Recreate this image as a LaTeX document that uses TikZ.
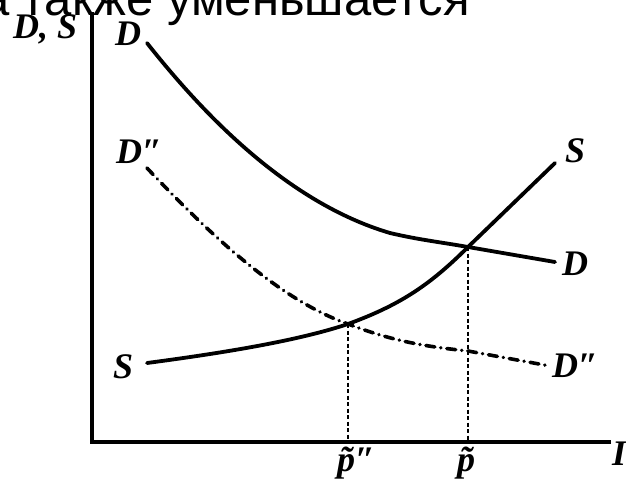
\documentclass[tikz,border=0pt]{standalone}
\usepackage{fontspec}
\setmainfont{Liberation Serif}
\newfontfamily\topfont{Liberation Sans}
\begin{document}
\begin{tikzpicture}[x=1pt,y=-1pt,
  curve/.style={line width=3.8pt,line join=round,line cap=round},
  dashdot/.style={line width=3.6pt,line cap=round,dash pattern=on 9pt off 6pt on 0.1pt off 6pt},
  guide/.style={line width=2pt,dash pattern=on 4pt off 2.5pt},
  axis/.style={line width=4pt},
  lab/.style={font=\fontsize{36}{36}\selectfont\bfseries\itshape,inner sep=0pt,anchor=base west}]
\useasboundingbox (0,0) rectangle (626,480);
\clip (0,0) rectangle (626,480);
% cut-off caption line at the top
\node[font=\topfont\fontsize{49}{49}\selectfont,inner sep=0pt,anchor=base east] (cap) at (470,15) {а также уменьшается};
% axes
\coordinate (O) at (92,442);
\coordinate (ytop) at (92,12);
\coordinate (xend) at (611,442);
\draw[axis] (ytop) -- (O) -- (xend);
% intersections
\coordinate (E) at (468,247);
\coordinate (Ep) at (348,324);
\coordinate (E0) at (468,442);
\coordinate (Ep0) at (348,442);
% curves
\draw[curve] (147,43) .. controls (200,110) and (285,202) .. (390,233) .. controls (420,240) and (440,242) .. (E) -- (555,262);
\draw[curve] (147,363) .. controls (230,352) and (300,340) .. (Ep) .. controls (400,305) and (430,285) .. (E) -- (555,163);
\draw[dashdot] (147,168) .. controls (210,235) and (280,300) .. (Ep) .. controls (390,340) and (420,346) .. (468,351) -- (550,366);
% guides
\draw[guide] (E) -- (E0);
\draw[guide] (Ep) -- (Ep0);
% labels
\node[lab] (ds) at (13,38) {D, S};
\node[lab] (dtop) at (115,45) {D};
\node[lab] (sr) at (565,162) {S};
\node[lab] (dr) at (562,275) {D};
\node[lab] (sl) at (113,378) {S};
\node[lab] (ddl) at (116,163) {D″};
\node[lab] (ddr) at (552,377) {D″};
\node[lab] (pp) at (337,471) {\~p″};
\node[lab] (p) at (457,471) {\~p};
\node[lab] (ix) at (612,465) {I};
\end{tikzpicture}
\end{document}
